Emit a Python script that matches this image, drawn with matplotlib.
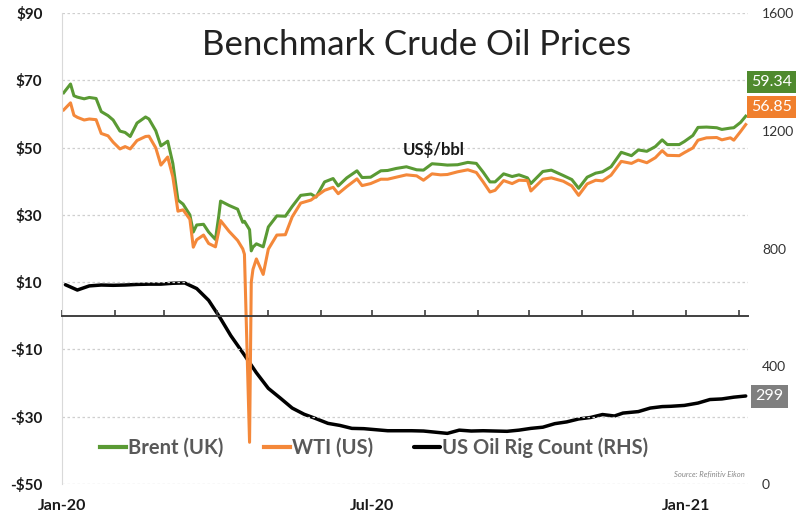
import matplotlib
matplotlib.use("Agg")
import matplotlib.pyplot as plt
import matplotlib.dates as mdates
import pandas as pd

plt.rcParams['font.family'] = ['Lato', 'DejaVu Sans']

# daily-ish closes, US$/bbl
price_dates = [
    "2020-01-02", "2020-01-06", "2020-01-08", "2020-01-10", "2020-01-14", "2020-01-17",
    "2020-01-21", "2020-01-24", "2020-01-28", "2020-01-31", "2020-02-04", "2020-02-07",
    "2020-02-10", "2020-02-14", "2020-02-19", "2020-02-21", "2020-02-25", "2020-02-28",
    "2020-03-03", "2020-03-06", "2020-03-09", "2020-03-12", "2020-03-16", "2020-03-18",
    "2020-03-20", "2020-03-24", "2020-03-27", "2020-03-31", "2020-04-02", "2020-04-03",
    "2020-04-08", "2020-04-13", "2020-04-16", "2020-04-17", "2020-04-20", "2020-04-21",
    "2020-04-22", "2020-04-24", "2020-04-28", "2020-05-01", "2020-05-06", "2020-05-11",
    "2020-05-15", "2020-05-20", "2020-05-26", "2020-05-29", "2020-06-03", "2020-06-08",
    "2020-06-11", "2020-06-16", "2020-06-22", "2020-06-25", "2020-06-30", "2020-07-06",
    "2020-07-10", "2020-07-15", "2020-07-21", "2020-07-27", "2020-07-31", "2020-08-05",
    "2020-08-10", "2020-08-14", "2020-08-20", "2020-08-26", "2020-08-31", "2020-09-04",
    "2020-09-08", "2020-09-11", "2020-09-16", "2020-09-21", "2020-09-25", "2020-09-30",
    "2020-10-02", "2020-10-09", "2020-10-14", "2020-10-21", "2020-10-26", "2020-10-30",
    "2020-11-04", "2020-11-09", "2020-11-13", "2020-11-18", "2020-11-24", "2020-11-30",
    "2020-12-04", "2020-12-09", "2020-12-14", "2020-12-18", "2020-12-21", "2020-12-28",
    "2020-12-31", "2021-01-05", "2021-01-08", "2021-01-13", "2021-01-19", "2021-01-22",
    "2021-01-27", "2021-01-29", "2021-02-02", "2021-02-05",
]
brent = [
    66.3, 68.9, 65.4, 65.0, 64.5, 64.9,
    64.6, 60.7, 59.5, 58.2, 54.9, 54.5,
    53.3, 57.3, 59.1, 58.5, 55.0, 50.5,
    51.9, 45.3, 34.4, 33.2, 30.0, 24.9,
    27.0, 27.2, 24.9, 22.7, 29.9, 34.1,
    32.8, 31.7, 27.8, 28.1, 25.6, 19.3,
    20.4, 21.4, 20.5, 26.4, 29.7, 29.6,
    32.5, 35.8, 36.2, 35.3, 39.8, 40.8,
    38.6, 41.0, 43.1, 41.1, 41.2, 43.1,
    43.2, 43.8, 44.3, 43.4, 43.3, 45.2,
    45.0, 44.8, 44.9, 45.6, 45.3, 42.7,
    39.8, 39.8, 42.2, 41.4, 41.9, 41.0,
    39.3, 42.9, 43.3, 41.7, 40.5, 37.9,
    41.2, 42.4, 42.8, 44.3, 48.6, 47.6,
    49.3, 48.9, 50.3, 52.3, 50.9, 50.9,
    51.8, 53.6, 56.0, 56.1, 55.9, 55.4,
    55.8, 55.9, 57.5, 59.34,
]
wti = [
    61.2, 63.3, 59.6, 59.0, 58.2, 58.5,
    58.3, 54.2, 53.5, 51.6, 49.6, 50.3,
    49.6, 52.1, 53.3, 53.4, 49.9, 44.8,
    47.2, 41.3, 31.1, 31.5, 28.7, 20.4,
    22.6, 24.0, 21.5, 20.5, 25.3, 28.3,
    25.1, 22.4, 19.9, 18.3, -37.6, 10.0,
    13.8, 16.9, 12.3, 19.8, 24.0, 24.1,
    29.4, 33.5, 34.4, 35.5, 37.3, 38.2,
    36.3, 38.4, 40.7, 38.7, 39.3, 40.6,
    40.6, 41.2, 41.9, 41.6, 40.3, 42.2,
    41.9, 42.0, 42.8, 43.4, 42.6, 39.8,
    36.8, 37.3, 40.2, 39.3, 40.3, 40.2,
    37.1, 40.6, 41.0, 40.0, 38.6, 35.8,
    39.2, 40.3, 40.1, 41.8, 45.9, 45.3,
    46.3, 45.5, 47.0, 49.1, 47.7, 47.6,
    48.5, 49.9, 52.2, 52.9, 53.0, 52.3,
    52.9, 52.2, 54.8, 56.85,
]

# weekly US oil rig count
rig_dates = [
    "2020-01-03", "2020-01-10", "2020-01-17", "2020-01-24", "2020-01-31", "2020-02-07",
    "2020-02-14", "2020-02-21", "2020-02-28", "2020-03-06", "2020-03-13", "2020-03-20",
    "2020-03-27", "2020-04-03", "2020-04-09", "2020-04-17", "2020-04-24", "2020-05-01",
    "2020-05-08", "2020-05-15", "2020-05-22", "2020-05-29", "2020-06-05", "2020-06-12",
    "2020-06-19", "2020-06-26", "2020-07-02", "2020-07-10", "2020-07-17", "2020-07-24",
    "2020-07-31", "2020-08-07", "2020-08-14", "2020-08-21", "2020-08-28", "2020-09-04",
    "2020-09-11", "2020-09-18", "2020-09-25", "2020-10-02", "2020-10-09", "2020-10-16",
    "2020-10-23", "2020-10-30", "2020-11-06", "2020-11-13", "2020-11-20", "2020-11-25",
    "2020-12-04", "2020-12-11", "2020-12-18", "2020-12-23", "2020-12-31", "2021-01-08",
    "2021-01-15", "2021-01-22", "2021-01-29", "2021-02-05",
]
rigs = [
    677, 659, 673, 676, 675, 676,
    678, 679, 679, 682, 683, 664,
    624, 562, 504, 438, 378, 325,
    292, 258, 237, 222, 206, 199,
    189, 188, 185, 181, 181, 181,
    180, 176, 172, 183, 180, 181,
    180, 179, 183, 189, 193, 205,
    211, 221, 226, 236, 231, 241,
    246, 258, 263, 264, 267, 275,
    287, 289, 295, 299,
]

px = pd.to_datetime(price_dates)
rx = pd.to_datetime(rig_dates)

green = "#5A9A34"
orange = "#F4883A"

fig = plt.figure(figsize=(8, 5.21), dpi=100)
ax = fig.add_axes([0.0775, 0.071, 0.8575, 0.904])
ax2 = ax.twinx()
ax.set_zorder(ax2.get_zorder() + 1)
ax.patch.set_visible(False)

ax2.plot(rx, rigs, color="black", lw=2.5, label="US Oil Rig Count (RHS)", solid_capstyle="round")
l1, = ax.plot(px, brent, color=green, lw=2.2, label="Brent (UK)")
l2, = ax.plot(px, wti, color=orange, lw=2.2, label="WTI (US)")

ax.set_xlim(pd.Timestamp("2020-01-01"), pd.Timestamp("2021-02-06 08:00"))
ax.set_ylim(-50, 90)
ax2.set_ylim(0, 1600)

ax.set_yticks(range(-50, 91, 20))
ax.set_yticklabels(["-$50", "-$30", "-$10", "$10", "$30", "$50", "$70", "$90"],
                   fontweight="bold", fontsize=11, color="#1a1a1a")
ax.tick_params(axis="y", length=0, pad=14)
ax.grid(axis="y", color="#cfcfcf", ls=(0, (2, 2)), lw=0.9)

ax2.set_yticks([0, 400, 800, 1200, 1600])
ax2.tick_params(axis="y", length=0, pad=10, labelsize=10, labelcolor="#333333")

for a in (ax, ax2):
    for s in ("top", "right"):
        a.spines[s].set_visible(False)
ax2.spines["left"].set_visible(False)
ax2.spines["bottom"].set_visible(False)
ax.spines["left"].set_color("#d9d9d9")
ax.spines["bottom"].set_position(("data", 0))
ax.spines["bottom"].set_color("#404040")
ax.spines["bottom"].set_linewidth(1.4)

ax.xaxis.set_major_locator(mdates.MonthLocator())
ax.tick_params(axis="x", direction="in", length=4, width=1.2, color="#404040", labelbottom=False)

sec = ax.secondary_xaxis("bottom")
sec.set_xticks(pd.to_datetime(["2020-01-01", "2020-07-01", "2021-01-01"]))
sec.set_xticklabels(["Jan-20", "Jul-20", "Jan-21"], fontweight="bold", fontsize=11.5, color="#1a1a1a")
sec.tick_params(length=0, pad=11)
sec.spines["bottom"].set_visible(False)

fig.text(0.521, 0.913, "Benchmark Crude Oil Prices", ha="center", va="center",
         fontsize=25, color="#222222")
ax.text(pd.Timestamp("2020-08-06"), 49.5, "US$/bbl", ha="center", va="center",
        fontsize=12, fontweight="bold", color="#1a1a1a")

box_x = 1.004
ax.text(box_x, 69.4, "59.34", transform=ax.get_yaxis_transform(), ha="left", va="center",
        fontsize=11.5, color="white",
        bbox=dict(boxstyle="square,pad=0.25", fc="#4F8A2E", ec="none"))
ax.text(box_x, 62.0, "56.85", transform=ax.get_yaxis_transform(), ha="left", va="center",
        fontsize=11.5, color="white",
        bbox=dict(boxstyle="square,pad=0.25", fc="#F07F2D", ec="none"))
ax2.text(box_x + 0.007, 298, "299", transform=ax2.get_yaxis_transform(), ha="left", va="center",
         fontsize=11.5, color="white",
         bbox=dict(boxstyle="square,pad=0.28", fc="#7f7f7f", ec="none"))

handles = [l1, l2, ax2.get_lines()[0]]
leg = ax.legend(handles=handles, labels=[h.get_label() for h in handles], loc="center",
                bbox_to_anchor=(0.455, 0.077), ncol=3, frameon=False, fontsize=14.5,
                handlelength=1.3, handletextpad=0.1, columnspacing=2.0)
for t in leg.get_texts():
    t.set_color("#595959")
    t.set_fontweight("bold")
for h in leg.legend_handles:
    h.set_linewidth(3)

ax.text(0.995, 0.015, "Source: Refinitiv Eikon", transform=ax.transAxes, ha="right", va="bottom",
        fontsize=5.5, color="#888888", style="italic")

fig.savefig("out.png", dpi=100)
